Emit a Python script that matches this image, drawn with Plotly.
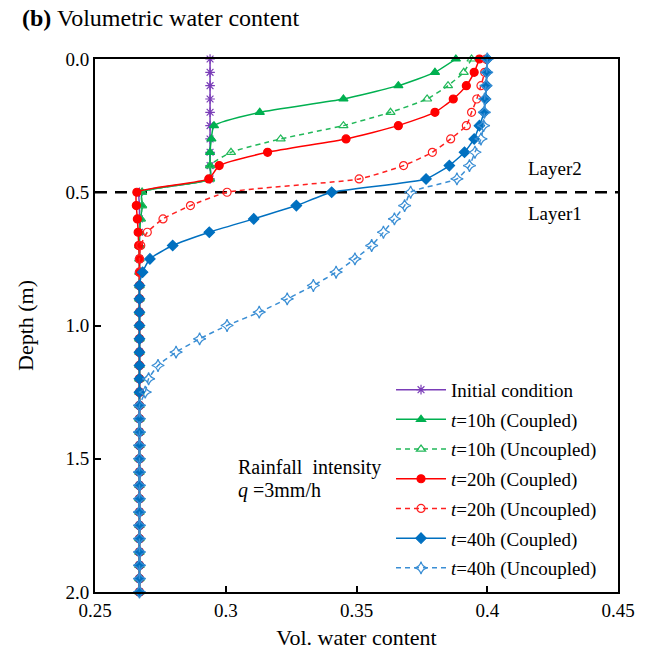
import plotly.graph_objects as go

# Depth (m)
depth = [0.00, 0.05, 0.10, 0.15, 0.20, 0.25, 0.30, 0.35, 0.40, 0.45,
         0.50, 0.55, 0.60, 0.65, 0.70, 0.75, 0.80, 0.85, 0.90, 0.95,
         1.00, 1.05, 1.10, 1.15, 1.20, 1.25, 1.30, 1.35, 1.40, 1.45,
         1.50, 1.55, 1.60, 1.65, 1.70, 1.75, 1.80, 1.85, 1.90, 1.95, 2.00]

initial = [0.294, 0.294, 0.294, 0.294, 0.294, 0.294, 0.294, 0.294, 0.294, 0.294,
           0.267, 0.267, 0.267, 0.267, 0.267, 0.267, 0.267, 0.267, 0.267, 0.267,
           0.267, 0.267, 0.267, 0.267, 0.267, 0.267, 0.267, 0.267, 0.267, 0.267,
           0.267, 0.267, 0.267, 0.267, 0.267, 0.267, 0.267, 0.267, 0.267, 0.267, 0.267]

t10_coupled = [0.388, 0.380, 0.366, 0.345, 0.313, 0.2955, 0.2945, 0.294, 0.294, 0.294,
               0.268, 0.268, 0.2675, 0.267, 0.267, 0.267, 0.267, 0.267, 0.267, 0.267,
               0.267, 0.267, 0.267, 0.267, 0.267, 0.267, 0.267, 0.267, 0.267, 0.267,
               0.267, 0.267, 0.267, 0.267, 0.267, 0.267, 0.267, 0.267, 0.267, 0.267, 0.267]

t10_uncoupled = [0.394, 0.391, 0.385, 0.377, 0.363, 0.345, 0.321, 0.302, 0.294, 0.294,
                 0.268, 0.268, 0.2675, 0.267, 0.267, 0.267, 0.267, 0.267, 0.267, 0.267,
                 0.267, 0.267, 0.267, 0.267, 0.267, 0.267, 0.267, 0.267, 0.267, 0.267,
                 0.267, 0.267, 0.267, 0.267, 0.267, 0.267, 0.267, 0.267, 0.267, 0.267, 0.267]

t20_coupled = [0.397, 0.395, 0.392, 0.387, 0.380, 0.366, 0.346, 0.316, 0.2975, 0.2935,
               0.266, 0.2658, 0.2662, 0.2665, 0.2667, 0.267, 0.267, 0.267, 0.267, 0.267,
               0.267, 0.267, 0.267, 0.267, 0.267, 0.267, 0.267, 0.267, 0.267, 0.267,
               0.267, 0.267, 0.267, 0.267, 0.267, 0.267, 0.267, 0.267, 0.267, 0.267, 0.267]

t20_uncoupled = [0.3995, 0.399, 0.3976, 0.396, 0.394, 0.392, 0.386, 0.379, 0.368, 0.351,
                 0.3005, 0.2865, 0.276, 0.270, 0.2675, 0.267, 0.267, 0.267, 0.267, 0.267,
                 0.267, 0.267, 0.267, 0.267, 0.267, 0.267, 0.267, 0.267, 0.267, 0.267,
                 0.267, 0.267, 0.267, 0.267, 0.267, 0.267, 0.267, 0.267, 0.267, 0.267, 0.267]

t40_coupled = [0.400, 0.3998, 0.3997, 0.3993, 0.3988, 0.397, 0.395, 0.3913, 0.3855, 0.3766,
               0.3405, 0.327, 0.3107, 0.2937, 0.2797, 0.271, 0.2682, 0.267, 0.267, 0.267,
               0.267, 0.267, 0.267, 0.267, 0.267, 0.267, 0.267, 0.267, 0.267, 0.267,
               0.267, 0.267, 0.267, 0.267, 0.267, 0.267, 0.267, 0.267, 0.267, 0.267, 0.267]

t40_uncoupled = [0.400, 0.3998, 0.3995, 0.399, 0.3989, 0.3986, 0.3976, 0.3953, 0.3932, 0.3884,
                 0.3707, 0.3684, 0.3645, 0.3603, 0.3558, 0.3494, 0.3422, 0.3335, 0.3235, 0.3128,
                 0.3005, 0.2900, 0.281, 0.2741, 0.2705, 0.2692, 0.267, 0.267, 0.267, 0.267,
                 0.267, 0.267, 0.267, 0.267, 0.267, 0.267, 0.267, 0.267, 0.267, 0.267, 0.267]

x_tickvals = [0.25, 0.30, 0.35, 0.40, 0.45]
x_ticktext = ["0.25", "0.3", "0.35", "0.4", "0.45"]
y_tickvals = [0.0, 0.5, 1.0, 1.5, 2.0]
y_ticktext = ["0.0", "0.5", "1.0", "1.5", "2.0"]

SERIF = "Liberation Serif, Times New Roman, serif"

series = [
    ("Initial condition", initial, "#7A3DB8", "solid", "asterisk-open", 8),
    ("<i>t</i>=10h (Coupled)", t10_coupled, "#00B050", "solid", "triangle-up", 8),
    ("<i>t</i>=10h (Uncoupled)", t10_uncoupled, "#22B85A", "5px,4px", "triangle-up-open", 8),
    ("<i>t</i>=20h (Coupled)", t20_coupled, "#FF0000", "solid", "circle", 8),
    ("<i>t</i>=20h (Uncoupled)", t20_uncoupled, "#FF2020", "5px,4px", "circle-open", 8),
    ("<i>t</i>=40h (Coupled)", t40_coupled, "#0070C0", "solid", "diamond", 8),
    ("<i>t</i>=40h (Uncoupled)", t40_uncoupled, "#3A8ED4", "5px,4px", "star-diamond-open", 9),
]

fig = go.Figure()
for i, (name, vals, color, dash, sym, size) in enumerate(series):
    fig.add_trace(go.Scatter(
        x=vals, y=depth, name=name, mode="lines+markers",
        line=dict(color=color, width=1.5, dash=dash, shape="spline", smoothing=0.5),
        marker=dict(symbol=sym, size=size, color=color,
                    line=dict(color=color, width=1.2)),
        legendgroup=f"g{i}", cliponaxis=False,
    ))

fig.add_shape(type="line", xref="paper", x0=0, x1=1, yref="y", y0=0.5, y1=0.5,
              line=dict(color="black", width=2.5, dash="12px,8px"), layer="below")

fig.add_annotation(text="Layer2", xref="paper", yref="y", x=0.88, y=0.41,
                   xanchor="center", showarrow=False,
                   font=dict(family=SERIF, size=19, color="black"))
fig.add_annotation(text="Layer1", xref="paper", yref="y", x=0.88, y=0.578,
                   xanchor="center", showarrow=False,
                   font=dict(family=SERIF, size=19, color="black"))
fig.add_annotation(text="Rainfall  intensity", xref="paper", yref="y", x=0.27, y=1.531,
                   xanchor="left", showarrow=False,
                   font=dict(family=SERIF, size=20, color="black"))
fig.add_annotation(text="<i>q</i> =3mm/h", xref="paper", yref="y", x=0.27, y=1.62,
                   xanchor="left", showarrow=False,
                   font=dict(family=SERIF, size=20, color="black"))
fig.add_annotation(text="<b>(b)</b> Volumetric water content", xref="paper", yref="paper",
                   x=-75/523, y=1 + 41/533, xanchor="left", yanchor="middle",
                   showarrow=False, font=dict(family=SERIF, size=24, color="black"))

fig.update_layout(
    width=648, height=657,
    margin=dict(l=95, r=30, t=59, b=65),
    paper_bgcolor="white", plot_bgcolor="white",
    font=dict(family=SERIF, size=19, color="black"),
    legend=dict(x=0.566, y=0.415, xanchor="left", yanchor="top",
                bgcolor="rgba(0,0,0,0)", font=dict(family=SERIF, size=19),
                tracegroupgap=2, itemwidth=50),
    xaxis=dict(range=[0.25, 0.45], tickvals=x_tickvals, ticktext=x_ticktext,
               showgrid=False, zeroline=False, showline=True, linecolor="black",
               linewidth=2, mirror=True, ticks="inside", ticklen=6, tickwidth=1.5,
               tickcolor="black", tickfont=dict(family=SERIF, size=19),
               title=dict(text="Vol. water content", font=dict(family=SERIF, size=22),
                          standoff=10)),
    yaxis=dict(range=[2.0, 0.0], tickvals=y_tickvals, ticktext=y_ticktext,
               showgrid=False, zeroline=False, showline=True, linecolor="black",
               linewidth=2, mirror=True, ticks="inside", ticklen=6, tickwidth=1.5,
               tickcolor="black", tickfont=dict(family=SERIF, size=19),
               title=dict(text="Depth (m)", font=dict(family=SERIF, size=22),
                          standoff=26)),
)

fig.write_html("out.html")
